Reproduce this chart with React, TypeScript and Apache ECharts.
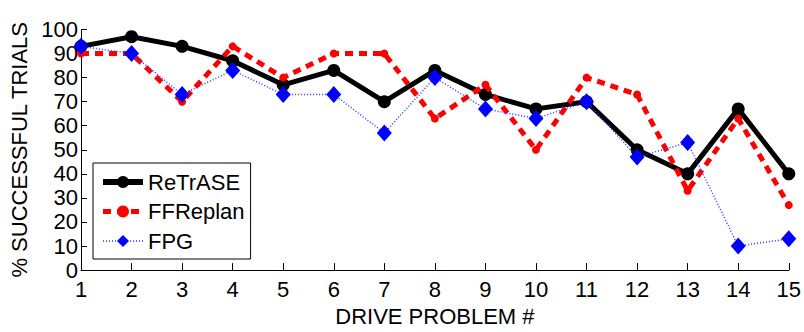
import React, { useEffect, useRef } from "react";
import * as echarts from "echarts";

const categories = ["1", "2", "3", "4", "5", "6", "7", "8", "9", "10", "11", "12", "13", "14", "15"];
const retraseValues = [93, 97, 93, 87, 77, 83, 70, 83, 73, 67, 70, 50, 40, 67, 40];
const ffreplanValues = [90, 90, 70, 93, 80, 90, 90, 63, 77, 50, 80, 73, 33, 63, 27];
const fpgValues = [93, 90, 73, 83, 73, 73, 57, 80, 67, 63, 70, 47, 53, 10, 13];
const xTitle = "DRIVE PROBLEM #";
const yTitle = "% SUCCESSFUL TRIALS";

const FONT = "Liberation Sans, Arial, sans-serif";
const FS = 22;

export default function App() {
  const ref = useRef<HTMLDivElement>(null);
  useEffect(() => {
    if (!ref.current) return;
    const chart = echarts.init(ref.current, null, { renderer: "svg" });
    chart.setOption({
      animation: false,
      textStyle: { fontFamily: FONT },
      grid: { left: 80, right: 15, top: 29.5, bottom: 59, containLabel: false },
      xAxis: {
        type: "category",
        data: categories,
        boundaryGap: false,
        name: xTitle,
        nameLocation: "middle",
        nameGap: 31,
        nameTextStyle: { fontSize: FS, color: "#000", fontFamily: FONT },
        axisLine: { lineStyle: { color: "#000", width: 1 } },
        axisTick: { inside: true, length: 7, lineStyle: { color: "#000" } },
        axisLabel: { fontSize: FS, color: "#000", margin: 8, fontFamily: FONT },
        splitLine: { show: false },
      },
      yAxis: {
        type: "value",
        min: 0,
        max: 100,
        interval: 10,
        name: yTitle,
        nameLocation: "middle",
        nameGap: 51,
        nameTextStyle: { fontSize: FS, color: "#000", fontFamily: FONT },
        axisLine: { show: true, lineStyle: { color: "#000", width: 1 } },
        axisTick: { show: true, inside: true, length: 6, lineStyle: { color: "#000" } },
        axisLabel: { fontSize: FS, color: "#000", margin: 3, fontFamily: FONT },
        splitLine: { show: false },
      },
      legend: {
        orient: "vertical",
        left: 93,
        top: 163,
        padding: [8, 6, 7, 7],
        itemWidth: 40,
        itemHeight: 15,
        itemGap: 7.5,
        borderColor: "#000",
        borderWidth: 1,
        backgroundColor: "#fff",
        textStyle: { fontSize: FS, color: "#000", fontFamily: FONT },
        data: [
          { name: "ReTrASE", lineStyle: { width: 6, color: "#000" } },
          { name: "FFReplan", lineStyle: { width: 5, color: "#ff0000", type: [8, 6] } },
          { name: "FPG", lineStyle: { width: 1.5, color: "#3333ff", type: [1, 2] } },
        ],
      },
      series: [
        {
          name: "ReTrASE",
          type: "line",
          data: retraseValues,
          symbol: "circle",
          symbolSize: 13,
          lineStyle: { color: "#000", width: 5 },
          itemStyle: { color: "#000" },
          z: 2,
        },
        {
          name: "FFReplan",
          type: "line",
          data: ffreplanValues,
          symbol: "circle",
          symbolSize: 8,
          lineStyle: { color: "#ff0000", width: 5, type: [8, 6] },
          itemStyle: { color: "#ff0000" },
          z: 3,
        },
        {
          name: "FPG",
          type: "line",
          data: fpgValues,
          symbol: "diamond",
          symbolSize: [15, 17],
          lineStyle: { color: "#3333ff", width: 1.5, type: [1, 2] },
          itemStyle: { color: "#0000ff" },
          z: 4,
        },
      ],
    });
    return () => chart.dispose();
  }, []);
  return <div ref={ref} style={{ width: 804, height: 332, position: "absolute", left: 0, top: 0, background: "#fff" }} />;
}
